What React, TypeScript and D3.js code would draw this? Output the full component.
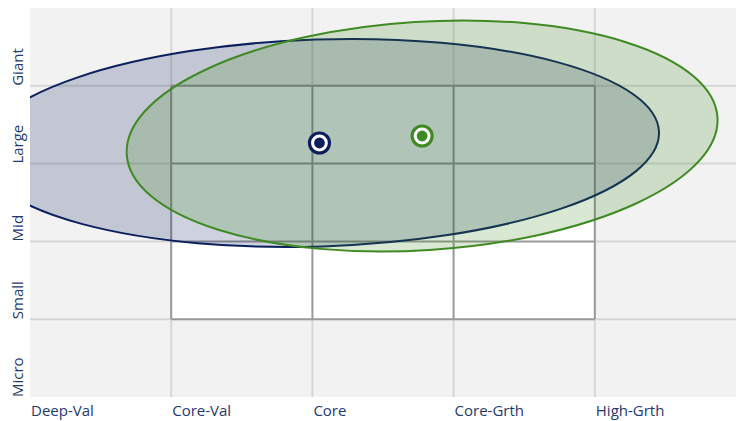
import React from "react";
import * as d3 from "d3";

const styleCols = ["Deep-Val", "Core-Val", "Core", "Core-Grth", "High-Grth"];
const sizeRows = ["Micro", "Small", "Mid", "Large", "Giant"];

// style box (in column/row units)
const boxX = [1, 4];
const boxY = [1, 4];

// series: centroid + ellipse extent (data units) + tilt (deg)
const seriesNames = ["Fund", "Benchmark"];
const centerX = [2.05, 2.777];
const centerY = [3.265, 3.355];
const radiusX = [2.406, 2.096];
const radiusY = [1.33, 1.469];
const tiltDeg = [1.85, 3.6];

const W = 739;
const H = 421;
const plot = { left: 30, right: 736, top: 8, bottom: 397 };

const colors = ["#0b1f5c", "#3f8a22"];
const labelColor = "#1f3a6e";

export default function App() {
  const x = d3.scaleLinear().domain([0, styleCols.length]).range([plot.left, plot.right]);
  const y = d3.scaleLinear().domain([0, sizeRows.length]).range([plot.bottom, plot.top]);

  const xTicks = d3.range(1, styleCols.length);
  const yTicks = d3.range(1, sizeRows.length);
  const boxXs = d3.range(boxX[0], boxX[1] + 1);
  const boxYs = d3.range(boxY[0], boxY[1] + 1);

  const font = "'Open Sans', sans-serif";

  return (
    <div style={{ position: "absolute", left: 0, top: 0 }}>
      <svg width={W} height={H} style={{ display: "block", background: "#fff" }}>
        <defs>
          <clipPath id="plotclip">
            <rect x={plot.left} y={plot.top} width={plot.right - plot.left} height={plot.bottom - plot.top} />
          </clipPath>
        </defs>
        <rect x={plot.left} y={plot.top} width={plot.right - plot.left} height={plot.bottom - plot.top} fill="#f2f2f2" />
        {xTicks.map((t) => (
          <line key={"gx" + t} x1={x(t)} x2={x(t)} y1={plot.top} y2={plot.bottom} stroke="#d6d6d6" strokeWidth={2} />
        ))}
        {yTicks.map((t) => (
          <line key={"gy" + t} x1={plot.left} x2={plot.right} y1={y(t)} y2={y(t)} stroke="#d6d6d6" strokeWidth={2} />
        ))}
        {/* style box */}
        <rect
          x={x(boxX[0])}
          y={y(boxY[1])}
          width={x(boxX[1]) - x(boxX[0])}
          height={y(boxY[0]) - y(boxY[1])}
          fill="#ffffff"
        />
        {boxXs.map((t) => (
          <line key={"bx" + t} x1={x(t)} x2={x(t)} y1={y(boxY[1])} y2={y(boxY[0])} stroke="#999999" strokeWidth={2} />
        ))}
        {boxYs.map((t) => (
          <line key={"by" + t} x1={x(boxX[0])} x2={x(boxX[1])} y1={y(t)} y2={y(t)} stroke="#999999" strokeWidth={2} />
        ))}
        {/* ellipses */}
        <g clipPath="url(#plotclip)">
          {seriesNames.map((s, i) => {
            const cx = x(centerX[i]);
            const cy = y(centerY[i]);
            const rx = x(radiusX[i]) - x(0);
            const ry = y(0) - y(radiusY[i]);
            return (
              <ellipse
                key={"el" + s}
                cx={cx}
                cy={cy}
                rx={rx}
                ry={ry}
                transform={`rotate(${-tiltDeg[i]} ${cx} ${cy})`}
                fill={colors[i]}
                fillOpacity={0.2}
                stroke={colors[i]}
                strokeWidth={2}
              />
            );
          })}
        </g>
        {/* centroids */}
        {seriesNames.map((s, i) => {
          const cx = x(centerX[i]);
          const cy = y(centerY[i]);
          return (
            <g key={"pt" + s}>
              <circle cx={cx} cy={cy} r={11.6} fill={colors[i]} />
              <circle cx={cx} cy={cy} r={8.4} fill="#ffffff" />
              <circle cx={cx} cy={cy} r={5.4} fill={colors[i]} />
            </g>
          );
        })}
        {/* x labels */}
        {styleCols.map((c, i) => (
          <text key={"xl" + c} x={x(i) + 1} y={416} fill={labelColor} fontFamily={font} fontSize={15}>
            {c}
          </text>
        ))}
        {/* y labels */}
        {sizeRows.map((r, i) => (
          <text
            key={"yl" + r}
            transform={`translate(23, ${y(i)}) rotate(-90)`}
            fill={labelColor}
            fontFamily={font}
            fontSize={15}
          >
            {r}
          </text>
        ))}
      </svg>
    </div>
  );
}
